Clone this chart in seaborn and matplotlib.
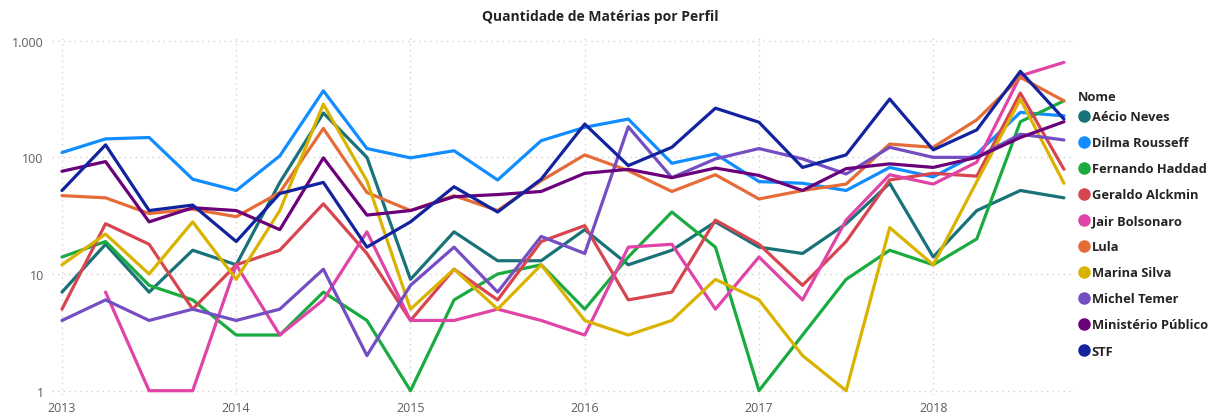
import numpy as np
import pandas as pd
import seaborn as sns
import matplotlib.pyplot as plt
from matplotlib.lines import Line2D
from matplotlib.ticker import FixedLocator, FixedFormatter, NullLocator

# quarters 2013 Q1 .. 2018 Q4
quarters = [2013 + q * 0.25 for q in range(24)]

aecio = [7, 18, 7, 16, 12, 61, 240, 100, 9, 23, 13, 13, 24, 12, 16, 28, 17, 15, 27, 60, 14, 35, 52, 45]
dilma = [110, 144, 148, 65, 52, 103, 372, 119, 99, 114, 64, 139, 181, 213, 89, 107, 62, 60, 52, 82, 68, 107, 243, 227]
haddad = [14, 19, 8, 6, 3, 3, 7, 4, 1, 6, 10, 12, 5, 14, 34, 17, 1, 3, 9, 16, 12, 20, 202, 305]
alckmin = [5, 27, 18, 5, 12, 16, 40, 15, 4, 11, 6, 19, 26, 6, 7, 29, 18, 8, 19, 64, 73, 69, 356, 79]
bolsonaro = [np.nan, 7, 1, 1, 12, 3, 6, 23, 4, 4, 5, 4, 3, 17, 18, 5, 14, 6, 29, 71, 59, 91, 500, 652]
lula = [47, 45, 33, 36, 31, 50, 177, 50, 35, 47, 35, 63, 105, 77, 51, 71, 44, 52, 59, 130, 122, 210, 485, 305]
marina = [12, 22, 10, 28, 9, 35, 286, 63, 5, 11, 5, 12, 4, 3, 4, 9, 6, 2, 1, 25, 12, 62, 316, 60]
temer = [4, 6, 4, 5, 4, 5, 11, 2, 8, 17, 7, 21, 15, 183, 67, 97, 119, 97, 72, 122, 100, 100, 158, 141]
mp = [76, 92, 28, 37, 35, 24, 99, 32, 35, 46, 48, 51, 73, 79, 67, 81, 70, 52, 80, 88, 82, 100, 148, 202]
stf = [52, 128, 35, 39, 19, 49, 61, 17, 28, 56, 34, 65, 193, 85, 122, 264, 200, 82, 105, 316, 116, 172, 546, 213]

names = ["Aécio Neves", "Dilma Rousseff", "Fernando Haddad", "Geraldo Alckmin", "Jair Bolsonaro",
         "Lula", "Marina Silva", "Michel Temer", "Ministério Público", "STF"]
colors = ["#197278", "#118DFF", "#1AAB40", "#D64550", "#E044A7",
          "#E66C37", "#D9B300", "#744EC2", "#6B007B", "#12239E"]
series = [aecio, dilma, haddad, alckmin, bolsonaro, lula, marina, temer, mp, stf]

year_ticks = [2013, 2014, 2015, 2016, 2017, 2018]

df = pd.concat([pd.DataFrame({"Trimestre": quarters, "Matérias": s, "Nome": n})
                for n, s in zip(names, series)], ignore_index=True)
df = df.dropna()

sns.set_style("white")
plt.rcParams["font.family"] = ["Open Sans", "DejaVu Sans"]

fig = plt.figure(figsize=(12.19, 4.14), dpi=100)
ax = fig.add_axes([52 / 1219, 1 - 396 / 414, (1075 - 52) / 1219, (396 - 37) / 414])

# draw order: first series at the bottom
sns.lineplot(data=df, x="Trimestre", y="Matérias", hue="Nome", hue_order=names,
             palette=dict(zip(names, colors)), linewidth=2.3, estimator=None,
             legend=False, ax=ax)
ax.set_yscale("log")
ax.set_ylim(10 ** (-4.3 / 116.67), 10 ** (3 + 4.7 / 116.67))
ax.set_xlim(2013 - 10 / 174.3, 2013 + (1075 - 61.7) / 174.3)

ax.yaxis.set_major_locator(FixedLocator([1, 10, 100, 1000]))
ax.yaxis.set_major_formatter(FixedFormatter(["1", "10", "100", "1.000"]))
ax.yaxis.set_minor_locator(NullLocator())
ax.set_xticks(year_ticks)
ax.set_xticklabels([str(y) for y in year_ticks])
ax.tick_params(axis="both", length=0, labelsize=9, labelcolor="#605E5C", pad=6)
ax.tick_params(axis="x", pad=4)
ax.grid(True, which="major", color="#D2D0CE", linestyle=(0, (1, 3)), linewidth=1)
for sp in ax.spines.values():
    sp.set_visible(False)
ax.set_xlabel("")
ax.set_ylabel("")

fig.text(600 / 1219, 1 - 17 / 414, "Quantidade de Matérias por Perfil", ha="center", va="center",
         fontsize=10, fontweight="bold", color="#252423")

handles = [Line2D([], [], marker="o", linestyle="", color=c, markersize=8) for c in colors]
leg = fig.legend(handles, names, title="Nome", loc="upper left",
                 bbox_to_anchor=(1073 / 1219, 1 - 86 / 414), frameon=False,
                 handletextpad=0.15, handlelength=0.9, labelspacing=1.01,
                 prop={"size": 9.3, "weight": "bold"}, borderaxespad=0)
leg.get_title().set_fontweight("bold")
leg.get_title().set_fontsize(9.3)
leg._legend_box.align = "left"
leg._legend_box.sep = 5
for t in leg.get_texts():
    t.set_color("#252423")

fig.savefig("out.png", dpi=100)
